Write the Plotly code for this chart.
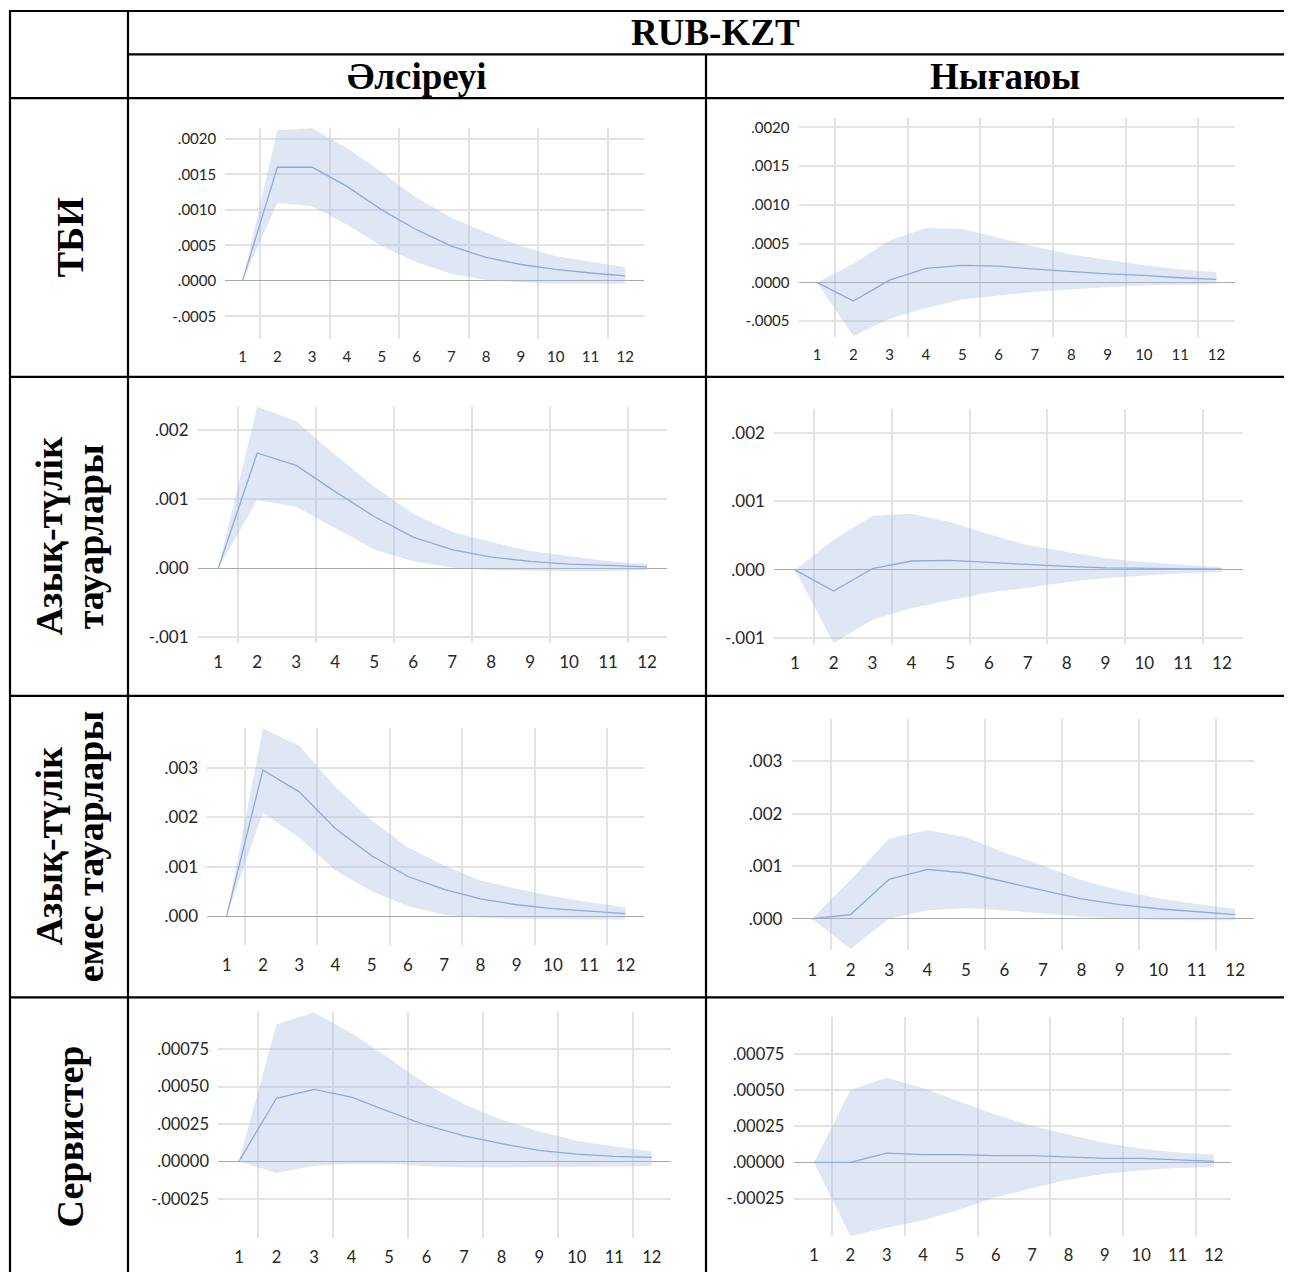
import plotly.graph_objects as go

# page body has an 8px margin: figure is offset so it lines up with the window
OFF = 8
FW, FH = 1284, 1268

# ---------------- data ----------------
periods = list(range(1, 13))
period_labels = [str(p) for p in periods]

# ТБИ – Әлсіреуі
tbi_weak_mean = [0, 0.00160, 0.00160, 0.00133, 0.00100, 0.00072, 0.00049, 0.00033, 0.00023, 0.00016, 0.00011, 0.00007]
tbi_weak_upper = [0, 0.00212, 0.00215, 0.00187, 0.00153, 0.00117, 0.00089, 0.00068, 0.00049, 0.00035, 0.00027, 0.00019]
tbi_weak_lower = [0, 0.00110, 0.00105, 0.00079, 0.00049, 0.00026, 0.00010, 0.00001, -0.00002, -0.00004, -0.00004, -0.00004]
# ТБИ – Нығаюы
tbi_strong_mean = [0, -0.00024, 0.00003, 0.00018, 0.00022, 0.00021, 0.00017, 0.00014, 0.00011, 0.00009, 0.00006, 0.00004]
tbi_strong_upper = [0, 0.00024, 0.00054, 0.00070, 0.00069, 0.00058, 0.00046, 0.00036, 0.00029, 0.00022, 0.00017, 0.00013]
tbi_strong_lower = [0, -0.00069, -0.00047, -0.00033, -0.00022, -0.00017, -0.00012, -0.00009, -0.00006, -0.00004, -0.00003, -0.00002]
# Азық-түлік тауарлары – Әлсіреуі
food_weak_mean = [0, 0.00167, 0.00149, 0.00111, 0.00075, 0.00045, 0.00027, 0.00016, 0.00010, 0.00006, 0.00004, 0.00002]
food_weak_upper = [0, 0.00234, 0.00213, 0.00164, 0.00118, 0.00079, 0.00053, 0.00038, 0.00025, 0.00017, 0.00010, 0.00006]
food_weak_lower = [0, 0.00099, 0.00089, 0.00058, 0.00027, 0.00010, 0.00001, -0.00003, -0.00004, -0.00004, -0.00004, -0.00003]
# Азық-түлік тауарлары – Нығаюы
food_strong_mean = [0, -0.00031, 0.00002, 0.00013, 0.00014, 0.00011, 0.00007, 0.00005, 0.00003, 0.00002, 0.00002, 0.00001]
food_strong_upper = [0, 0.00044, 0.00079, 0.00082, 0.00070, 0.00052, 0.00036, 0.00026, 0.00017, 0.00011, 0.00008, 0.00004]
food_strong_lower = [0, -0.00107, -0.00073, -0.00056, -0.00044, -0.00033, -0.00026, -0.00018, -0.00012, -0.00008, -0.00005, -0.00003]
# Азық-түлік емес тауарлары – Әлсіреуі
nonfood_weak_mean = [0, 0.00295, 0.00251, 0.00177, 0.00122, 0.00080, 0.00054, 0.00035, 0.00023, 0.00015, 0.00010, 0.00005]
nonfood_weak_upper = [0, 0.00379, 0.00344, 0.00261, 0.00193, 0.00139, 0.00102, 0.00072, 0.00055, 0.00040, 0.00028, 0.00018]
nonfood_weak_lower = [0, 0.00209, 0.00159, 0.00092, 0.00050, 0.00020, 0.00003, -0.00003, -0.00006, -0.00007, -0.00007, -0.00007]
# Азық-түлік емес тауарлары – Нығаюы
nonfood_strong_mean = [0, 0.00008, 0.00075, 0.00094, 0.00087, 0.00070, 0.00054, 0.00038, 0.00027, 0.00019, 0.00013, 0.00008]
nonfood_strong_upper = [0, 0.00074, 0.00152, 0.00169, 0.00155, 0.00126, 0.00101, 0.00073, 0.00054, 0.00039, 0.00028, 0.00019]
nonfood_strong_lower = [0, -0.00057, 0.00000, 0.00016, 0.00020, 0.00016, 0.00010, 0.00004, 0.00001, -0.00002, -0.00003, -0.00003]
# Сервистер – Әлсіреуі
serv_weak_mean = [0, 0.000422, 0.000482, 0.000429, 0.000333, 0.000240, 0.000171, 0.000118, 0.000073, 0.000049, 0.000033, 0.000027]
serv_weak_upper = [0, 0.000916, 0.000996, 0.000856, 0.000690, 0.000516, 0.000382, 0.000278, 0.000200, 0.000138, 0.000100, 0.000067]
serv_weak_lower = [0, -0.000078, -0.000029, -0.000016, -0.000016, -0.000033, -0.000040, -0.000040, -0.000040, -0.000040, -0.000035, -0.000033]
# Сервистер – Нығаюы
serv_strong_mean = [0, 0.000000, 0.000064, 0.000053, 0.000053, 0.000046, 0.000046, 0.000037, 0.000028, 0.000028, 0.000016, 0.000007]
serv_strong_upper = [0, 0.000500, 0.000585, 0.000511, 0.000420, 0.000328, 0.000252, 0.000190, 0.000133, 0.000094, 0.000069, 0.000053]
serv_strong_lower = [0, -0.000509, -0.000452, -0.000400, -0.000326, -0.000241, -0.000177, -0.000119, -0.000078, -0.000055, -0.000039, -0.000032]

# y tick values / labels
yt_small = [-0.0005, 0, 0.0005, 0.0010, 0.0015, 0.0020]
yt_small_text = ["-.0005", ".0000", ".0005", ".0010", ".0015", ".0020"]
yt_food = [-0.001, 0, 0.001, 0.002]
yt_food_text = ["-.001", ".000", ".001", ".002"]
yt_nonfood = [0, 0.001, 0.002, 0.003]
yt_nonfood_text = [".000", ".001", ".002", ".003"]
yt_serv = [-0.00025, 0, 0.00025, 0.00050, 0.00075]
yt_serv_text = ["-.00025", ".00000", ".00025", ".00050", ".00075"]

header_main = "RUB-KZT"
col_headers = ["Әлсіреуі", "Нығаюы"]
row_headers = [["ТБИ"], ["Азық-түлік", "тауарлары"], ["Азық-түлік", "емес тауарлары"], ["Сервистер"]]

# ---------------- layout helpers (reference pixel -> paper) ----------------
def px(x):
    return (x - OFF) / FW

def py(y):
    return 1 - (y - OFF) / FH

panels = [
    dict(m=tbi_weak_mean, u=tbi_weak_upper, l=tbi_weak_lower, rect=(225.2, 644.4, 128.3, 340.0),
         xr=[0.5, 12.55], yr=[-0.000819, 0.002154], yt=yt_small, ytt=yt_small_text, fs=15),
    dict(m=tbi_strong_mean, u=tbi_strong_upper, l=tbi_strong_lower, rect=(798.5, 1235.0, 118.3, 338.3),
         xr=[0.49, 12.51], yr=[-0.000707, 0.00212], yt=yt_small, ytt=yt_small_text, fs=15),
    dict(m=food_weak_mean, u=food_weak_upper, l=food_weak_lower, rect=(198.0, 667.3, 408.3, 645.0),
         xr=[0.48, 12.52], yr=[-0.001083, 0.002335], yt=yt_food, ytt=yt_food_text, fs=17),
    dict(m=food_strong_mean, u=food_strong_upper, l=food_strong_lower, rect=(774.3, 1242.5, 410.7, 646.0),
         xr=[0.47, 12.53], yr=[-0.001083, 0.002345], yt=yt_food, ytt=yt_food_text, fs=17),
    dict(m=nonfood_weak_mean, u=nonfood_weak_upper, l=nonfood_weak_lower, rect=(207.4, 643.6, 730.0, 948.3),
         xr=[0.47, 12.5], yr=[-0.00059, 0.003805], yt=yt_nonfood, ytt=yt_nonfood_text, fs=17),
    dict(m=nonfood_strong_mean, u=nonfood_strong_upper, l=nonfood_strong_lower, rect=(791.8, 1253.6, 721.7, 953.3),
         xr=[0.47, 12.48], yr=[-0.0006, 0.00379], yt=yt_nonfood, ytt=yt_nonfood_text, fs=17),
    dict(m=serv_weak_mean, u=serv_weak_upper, l=serv_weak_lower, rect=(218.3, 670.9, 1015.0, 1241.7),
         xr=[0.45, 12.51], yr=[-0.000511, 0.001], yt=yt_serv, ytt=yt_serv_text, fs=16.5),
    dict(m=serv_strong_mean, u=serv_strong_upper, l=serv_strong_lower, rect=(793.7, 1231.3, 1020.0, 1240.0),
         xr=[0.44, 12.48], yr=[-0.000509, 0.001005], yt=yt_serv, ytt=yt_serv_text, fs=16.5),
]

BAND = "rgba(170,190,225,0.38)"
LINE = "#8eaadb"
GRID = "#e3e3e3"
ZERO = "#a9a9a9"
TICKFONT = "Lato, 'Open Sans', sans-serif"

fig = go.Figure()
layout_axes = {}
for i, p in enumerate(panels, start=1):
    xa = "x" if i == 1 else f"x{i}"
    ya = "y" if i == 1 else f"y{i}"
    fig.add_trace(go.Scatter(x=periods, y=p["l"], xaxis=xa, yaxis=ya, mode="lines",
                             line=dict(width=0, color=BAND), hoverinfo="skip", showlegend=False))
    fig.add_trace(go.Scatter(x=periods, y=p["u"], xaxis=xa, yaxis=ya, mode="lines", fill="tonexty",
                             fillcolor=BAND, line=dict(width=0, color=BAND), hoverinfo="skip", showlegend=False))
    fig.add_trace(go.Scatter(x=periods, y=p["m"], xaxis=xa, yaxis=ya, mode="lines",
                             line=dict(width=1.3, color=LINE), showlegend=False))
    x0, x1, yt_, yb_ = p["rect"]
    xkey = "xaxis" if i == 1 else f"xaxis{i}"
    ykey = "yaxis" if i == 1 else f"yaxis{i}"
    layout_axes[xkey] = dict(
        domain=[px(x0), px(x1)], anchor=ya, range=p["xr"],
        tickmode="array", tickvals=periods, ticktext=period_labels,
        showgrid=False, zeroline=False, showline=False,
        ticks="outside", ticklen=4, tickcolor="rgba(0,0,0,0)",
        tickfont=dict(family=TICKFONT, size=p["fs"], color="#262626"),
        minor=dict(tickmode="array", tickvals=[1.5, 3.5, 5.5, 7.5, 9.5, 11.5],
                   showgrid=True, gridcolor=GRID, gridwidth=1.5, ticks=""),
        fixedrange=True,
    )
    layout_axes[ykey] = dict(
        domain=[py(yb_), py(yt_)], anchor=xa, range=p["yr"],
        tickmode="array", tickvals=p["yt"], ticktext=p["ytt"],
        showgrid=True, gridcolor=GRID, gridwidth=1.5,
        zeroline=True, zerolinecolor=ZERO, zerolinewidth=1.2, showline=False,
        ticks="outside", ticklen=5, tickcolor="rgba(0,0,0,0)",
        tickfont=dict(family=TICKFONT, size=p["fs"], color="#262626"),
        fixedrange=True,
    )

# ---------------- table lines ----------------
LW = 2.2
BOTTOM = 1276
def hline(y, xa, xb):
    return dict(type="line", xref="paper", yref="paper", x0=px(xa), x1=px(xb), y0=py(y), y1=py(y),
                line=dict(color="black", width=LW))

def vline(x, ya, yb):
    return dict(type="line", xref="paper", yref="paper", x0=px(x), x1=px(x), y0=py(ya), y1=py(yb),
                line=dict(color="black", width=LW))

shapes = [
    hline(11, 9, 1292),
    hline(54.5, 128, 1292),
    hline(98.5, 9, 1292),
    hline(378, 9, 1292),
    hline(698, 9, 1292),
    hline(1000.5, 9, 1292),
    vline(10, 10, BOTTOM),
    vline(128, 10, BOTTOM),
    vline(706, 54, BOTTOM),
    vline(1291, 10, BOTTOM),
]

SERIF = "'Liberation Serif', 'Times New Roman', serif"
HFONT = dict(family=SERIF, size=37, color="black", weight="bold")
RFONT = dict(family=SERIF, size=38, color="black", weight="bold")
annotations = [
    dict(text=header_main, x=px(715), y=py(33), xref="paper", yref="paper", showarrow=False,
         font=HFONT, xanchor="center", yanchor="middle"),
    dict(text=col_headers[0], x=px(417), y=py(77), xref="paper", yref="paper", showarrow=False,
         font=HFONT, xanchor="center", yanchor="middle"),
    dict(text=col_headers[1], x=px(1005), y=py(77), xref="paper", yref="paper", showarrow=False,
         font=HFONT, xanchor="center", yanchor="middle"),
]
row_centers = [238, 538, 849, 1140]
for lines, yc in zip(row_headers, row_centers):
    if len(lines) == 1:
        xs = [70]
    else:
        xs = [49, 90]
    for txt, xc in zip(lines, xs):
        annotations.append(dict(text=txt, x=px(xc), y=py(yc), xref="paper", yref="paper", showarrow=False,
                                textangle=-90, font=RFONT, xanchor="center", yanchor="middle"))

fig.update_layout(
    width=FW, height=FH, margin=dict(l=0, r=0, t=0, b=0),
    paper_bgcolor="white", plot_bgcolor="white",
    showlegend=False, hovermode=False,
    shapes=shapes, annotations=annotations,
    **layout_axes,
)

fig.write_html("out.html")
